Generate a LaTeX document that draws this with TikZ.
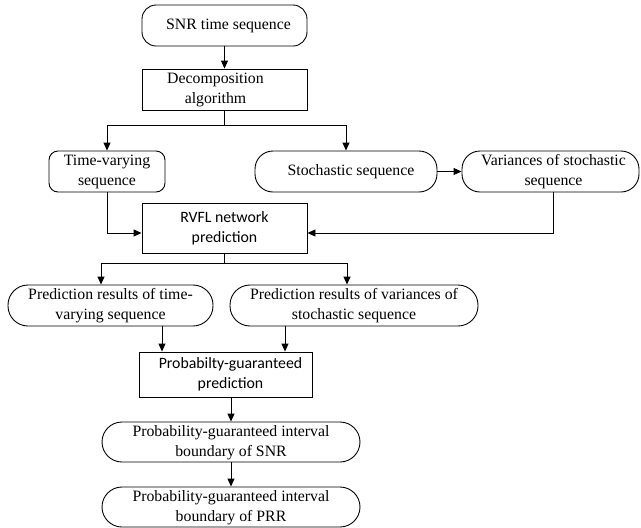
\documentclass[tikz,border=0pt]{standalone}
\usepackage{fontspec}
\setmainfont{Liberation Serif}
\newfontfamily\sansf{Carlito}
\usetikzlibrary{arrows.meta}
\newcommand{\tl}[1]{\begin{tabular}{@{}c@{}}#1\end{tabular}}
\begin{document}
\begin{tikzpicture}[x=1pt,y=-1pt,
  every node/.style={font=\fontsize{15.8}{20}\selectfont},
  base/.style={draw, line width=0.9pt, inner sep=0pt, minimum height=41pt},
  sqbox/.style={base},
  rbox/.style={base, rounded corners=#1},
  arr/.style={line width=0.9pt, -{Triangle[length=8pt,width=7pt]}},
  ln/.style={line width=0.9pt}]
\useasboundingbox (0,0) rectangle (641,528);
\node[rbox=14pt, minimum width=165pt] (snr) at (224.5,25.5) {\hspace*{8pt}\tl{SNR time sequence}};
\node[sqbox, minimum width=165pt] (dec) at (224.5,89.5) {\tl{Decomposition\\algorithm}\hspace*{18pt}};
\node[rbox=9pt, minimum width=116pt] (tv) at (107,171.5) {\tl{Time-varying\\sequence}};
\node[rbox=18pt, minimum width=182pt] (sto) at (346,171.5) {\hspace*{10pt}\tl{Stochastic sequence}};
\node[rbox=18pt, minimum width=177pt] (var) at (550.5,171.5) {\hspace*{6pt}\tl{Variances of stochastic\\sequence}};
\node[sqbox, minimum width=165pt, minimum height=50pt] (rvfl) at (224.5,228) {\sansf\tl{RVFL network\\prediction}};
\node[rbox=20pt, minimum width=205pt] (ptv) at (110.5,305.5) {\tl{Prediction results of time-\\varying sequence}};
\node[rbox=20pt, minimum width=248pt] (pvar) at (354,305.5) {\tl{Prediction results of variances of\\stochastic sequence}};
\node[sqbox, minimum width=173pt, minimum height=45pt] (prob) at (225.5,374.5) {\hspace*{10pt}\sansf\tl{Probabilty-guaranteed\\prediction}};
\node[rbox=20pt, minimum width=258pt, minimum height=40pt] (snrb) at (231,442) {\tl{Probability-guaranteed interval\\boundary of SNR}};
\node[rbox=20pt, minimum width=258pt, minimum height=40pt] (prrb) at (231,507) {\tl{Probability-guaranteed interval\\boundary of PRR}};
% connectors
\draw[arr] (snr) -- (dec);
\coordinate (j1) at (224.5,125);
\draw[ln] (dec.south) -- (j1);
\draw[arr] (j1) -| (tv.north);
\draw[arr] (j1) -| (sto.north);
\draw[arr] (sto.east) -- (var.west);
\coordinate (r1) at ([yshift=-5pt]rvfl.west);
\coordinate (r2) at ([yshift=-5pt]rvfl.east);
\coordinate (v1) at ([xshift=3pt]var.south);
\draw[arr] (tv.south) |- (r1);
\draw[arr] (v1) |- (r2);
\coordinate (j2) at (224.5,263);
\draw[ln] (rvfl.south) -- (j2);
\coordinate (p1) at ([xshift=-9.5pt]ptv.north);
\coordinate (p2) at ([xshift=-7pt]pvar.north);
\draw[arr] (j2) -| (p1);
\draw[arr] (j2) -| (p2);
\coordinate (a1) at ([xshift=51.5pt]ptv.south);
\coordinate (a2) at ([xshift=-69pt]pvar.south);
\draw[arr] (a1) -- (a1 |- prob.north);
\draw[arr] (a2) -- (a2 |- prob.north);
\draw[arr] (prob.south -| snrb.north) -- (snrb.north);
\draw[arr] (snrb) -- (prrb);
\end{tikzpicture}
\end{document}
